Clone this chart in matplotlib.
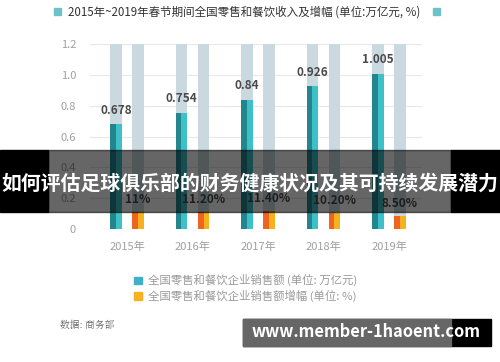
import matplotlib.pyplot as plt
from matplotlib.patches import Rectangle
import numpy as np

plt.rcParams['font.family'] = ['Noto Sans CJK SC', 'DejaVu Sans']

# datos
anios = ['2015年', '2016年', '2017年', '2018年', '2019年']
ventas = [0.678, 0.754, 0.84, 0.926, 1.005]
ventas_txt = ['0.678', '0.754', '0.84', '0.926', '1.005']
crecimiento = [11.0, 11.2, 11.4, 10.2, 8.5]
crec_txt = ['11%', '11.20%', '11.40%', '10.20%', '8.50%']
yticks = [0, 0.2, 0.4, 0.6, 0.8, 1.0, 1.2]
ytick_txt = ['0', '0.2', '0.4', '0.6', '0.8', '1.0', '1.2']

fig = plt.figure(figsize=(5, 3.62), dpi=100)
ax = fig.add_axes([0.18, 0.3674, 0.664, 0.511])

x = np.arange(len(anios))
ancho = 0.18
off = 0.168
mitad = ancho / 2

# barras de fondo grises
ax.bar(x - off, [1.2] * 5, ancho, color='#c9d9df', zorder=1)
ax.bar(x + off, [1.2] * 5, ancho, color='#c9d9df', zorder=1)

# ventas (dos tonos)
ax.bar(x - off - mitad / 2, ventas, mitad, color='#23868f', zorder=2)
ax.bar(x - off + mitad / 2, ventas, mitad, color='#3ec0c9', zorder=2)

# crecimiento (dos tonos)
crec = [c / 100 for c in crecimiento]
ax.bar(x + off - mitad / 2, crec, mitad, color='#ef6420', zorder=2)
ax.bar(x + off + mitad / 2, crec, mitad, color='#f6b21e', zorder=2)

for i in range(len(anios)):
    ax.text(x[i] - off, ventas[i] + 0.05, ventas_txt[i], ha='center', va='bottom',
            fontsize=8.5, color='#4a4a4a', fontweight='bold')
    ax.text(x[i] + off, crec[i] + 0.04, crec_txt[i], ha='center', va='bottom',
            fontsize=8.5, color='#4a4a4a', fontweight='bold')

ax.set_xlim(-0.565, 4.504)
ax.set_ylim(0, 1.2)
ax.set_yticks(yticks)
ax.set_yticklabels(ytick_txt)
ax.set_xticks(x)
ax.set_xticklabels(anios)
ax.tick_params(axis='both', length=0, labelsize=8, colors='#a0a0a0')
ax.tick_params(axis='y', pad=10)
ax.tick_params(axis='x', pad=9)
ax.grid(axis='y', color='#e8e8e8', linewidth=0.8, zorder=0)
ax.set_axisbelow(True)
for s in ax.spines.values():
    s.set_visible(False)

# titulo
fig.text(0.135, 0.967, '2015年~2019年春节期间全国零售和餐饮收入及增幅 (单位:万亿元, %)',
         fontsize=8.3, color='#333333', va='center', ha='left')
fig.patches.append(Rectangle((0.107, 0.958), 0.014, 0.019, color='#6cc3c6',
                             transform=fig.transFigure, figure=fig))
fig.patches.append(Rectangle((0.865, 0.958), 0.014, 0.019, color='#6cc3c6',
                             transform=fig.transFigure, figure=fig))

# leyenda
fig.patches.append(Rectangle((0.268, 0.216), 0.015, 0.02, color='#3eb1c8',
                             transform=fig.transFigure, figure=fig))
fig.patches.append(Rectangle((0.268, 0.172), 0.015, 0.02, color='#f5b120',
                             transform=fig.transFigure, figure=fig))
fig.text(0.296, 0.226, '全国零售和餐饮企业销售额 (单位: 万亿元)', fontsize=8.2,
         color='#9a9a9a', va='center')
fig.text(0.296, 0.182, '全国零售和餐饮企业销售额增幅 (单位: %)', fontsize=8.2,
         color='#9a9a9a', va='center')

fig.text(0.12, 0.102, '数据: 商务部', fontsize=7, color='#666666', va='center',
         family=['Noto Serif CJK SC', 'Noto Sans CJK SC', 'DejaVu Sans'])

# franja superpuesta
y0 = 1 - 212 / 362
h = 62 / 362
fig.patches.append(Rectangle((0, y0), 0.096, h, color='black', transform=fig.transFigure,
                             figure=fig, zorder=5))
fig.patches.append(Rectangle((0.902, y0), 0.098, h, color='black', transform=fig.transFigure,
                             figure=fig, zorder=5))
fig.patches.append(Rectangle((0.096, y0), 0.806, h, color='black', alpha=0.6,
                             transform=fig.transFigure, figure=fig, zorder=6))
fig.text(0.5, 1 - 183 / 362, '如何评估足球俱乐部的财务健康状况及其可持续发展潜力',
         fontsize=14.3, color='white', fontweight='bold', ha='center', va='center',
         zorder=7)

# marca de agua
fig.patches.append(Rectangle((0.486, 1 - 346 / 362), 0.496, 27 / 362, color='black',
                             transform=fig.transFigure, figure=fig, zorder=5))
fig.patches.append(Rectangle((0.486, 1 - 346 / 362), 0.416, 27 / 362, color='#666666',
                             transform=fig.transFigure, figure=fig, zorder=6))
fig.text(0.732, 1 - 332 / 362, 'www.member-1haoent.com', fontsize=11.8, color='white',
         fontweight='bold', ha='center', va='center', zorder=7)

fig.savefig('out.png', dpi=100)
